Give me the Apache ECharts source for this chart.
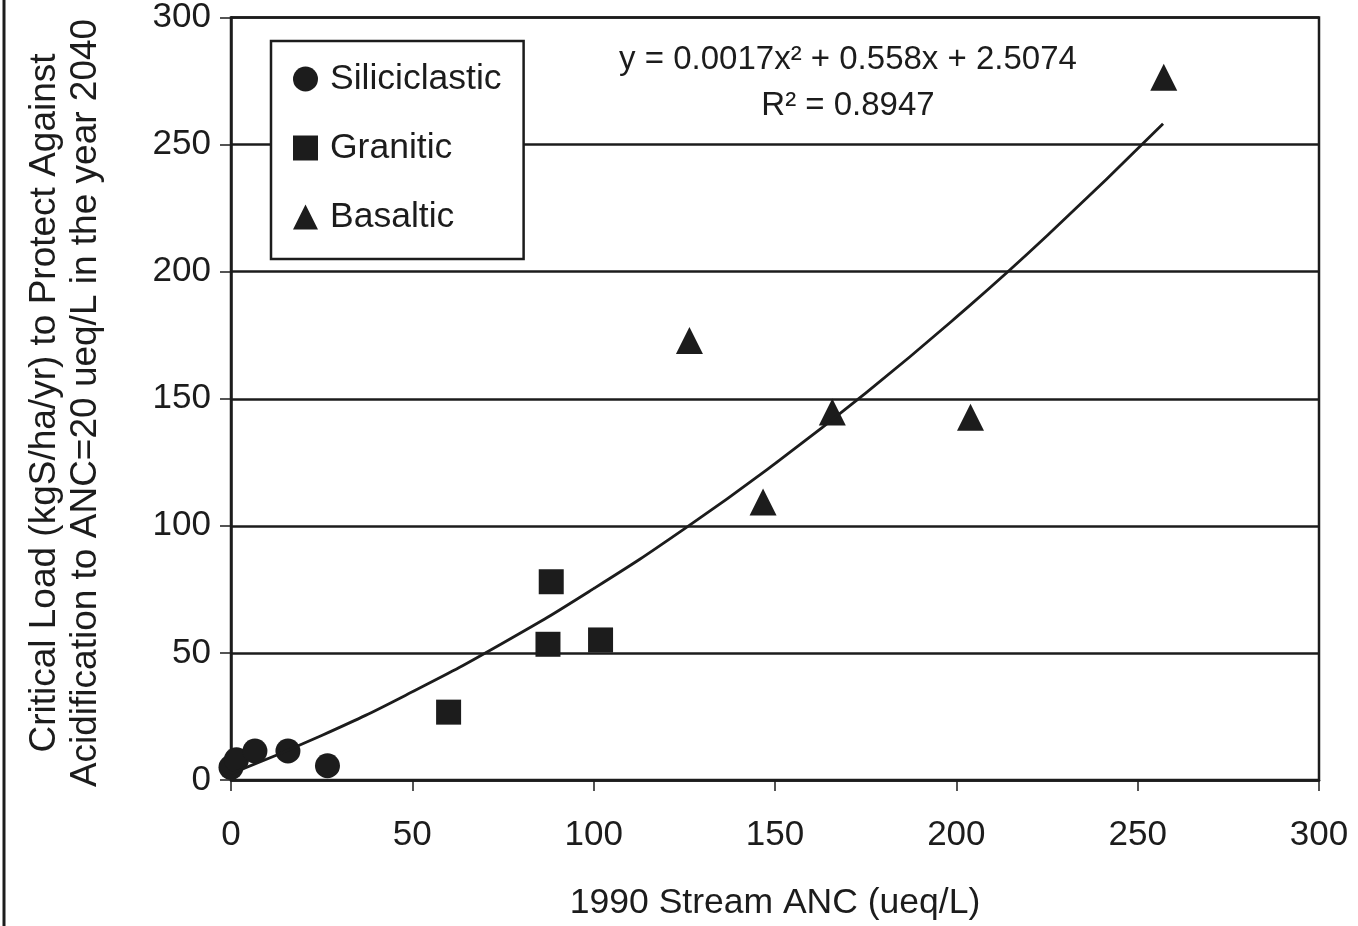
<!DOCTYPE html>
<html>
<head>
<meta charset="utf-8">
<script src="https://cdn.jsdelivr.net/npm/echarts@6/dist/echarts.min.js"></script>
<style>
html,body{margin:0;padding:0;background:#fff;}
#chart{width:1358px;height:926px;}
</style>
</head>
<body>
<div id="chart"></div>
<script>
// Data
const siliciclastic = [[0, 5], [1.5, 8], [6.6, 11.4], [15.7, 11.4], [26.6, 5.6]];
const granitic = [[60.0, 26.7], [87.4, 53.4], [88.3, 78.0], [101.9, 55.1]];
const basaltic = [[126.4, 172.9], [146.7, 109.4], [165.8, 144.8], [203.9, 142.7], [257.2, 276.5]];
// Points
const trendX = [0, 25, 50, 75, 100, 125, 150, 175, 200, 225, 257];
const trendY = [2.5, 17.5, 34.7, 53.9, 75.3, 98.8, 124.5, 152.2, 182.1, 214.1, 258.2];
const xTicks = [0, 50, 100, 150, 200, 250, 300];
const yTicks = [0, 50, 100, 150, 200, 250, 300];
const equationText = 'y = 0.0017x² + 0.558x + 2.5074';
const r2Text = 'R² = 0.8947';
const xTitle = '1990 Stream ANC (ueq/L)';
const yTitle1 = 'Critical Load (kgS/ha/yr) to Protect Against';
const yTitle2 = 'Acidification to ANC=20 ueq/L in the year 2040';

const FONT = "'Liberation Sans', Arial, sans-serif";
const INK = '#1c1c1c';

const chart = echarts.init(document.getElementById('chart'), null, {renderer: 'canvas'});
const trendData = trendX.map((x, i) => [x, trendY[i]]);

chart.setOption({
  backgroundColor: '#fff',
  animation: false,
  grid: {left: 231, right: 39, top: 17, bottom: 138, show: true, borderColor: INK, borderWidth: 2.5, backgroundColor: 'transparent'},
  xAxis: {
    type: 'value', min: xTicks[0], max: xTicks[xTicks.length - 1], interval: 50,
    name: xTitle, nameLocation: 'middle', nameGap: 105,
    nameTextStyle: {fontFamily: FONT, fontSize: 35.5, color: INK},
    axisLine: {onZero: false, lineStyle: {color: INK, width: 2.5}},
    axisTick: {show: true, inside: false, length: 11, lineStyle: {color: INK, width: 1.5}},
    axisLabel: {fontFamily: FONT, fontSize: 35, color: INK, margin: 38},
    splitLine: {show: false}
  },
  yAxis: {
    type: 'value', min: yTicks[0], max: yTicks[yTicks.length - 1], interval: 50,
    axisLine: {show: true, onZero: false, lineStyle: {color: INK, width: 2.5}},
    axisTick: {show: true, inside: false, length: 11, lineStyle: {color: INK, width: 1.5}},
    axisLabel: {fontFamily: FONT, fontSize: 35, color: INK, margin: 20},
    splitLine: {show: true, lineStyle: {color: INK, width: 2.5}}
  },
  legend: {
    orient: 'vertical', left: 271, top: 41,
    padding: [18, 22, 22, 22],
    itemGap: 29, itemWidth: 25, itemHeight: 25,
    backgroundColor: '#fff', borderColor: INK, borderWidth: 2.5,
    textStyle: {fontFamily: FONT, fontSize: 35.5, color: INK, lineHeight: 40, padding: [0, 0, 0, 7]},
    data: ['Siliciclastic', 'Granitic', 'Basaltic'],
    z: 10
  },
  series: [
    {name: 'Siliciclastic', type: 'scatter', symbol: 'circle', symbolSize: 25, data: siliciclastic, itemStyle: {color: INK, opacity: 1}, z: 3},
    {name: 'Granitic', type: 'scatter', symbol: 'rect', symbolSize: 25, data: granitic, itemStyle: {color: INK, opacity: 1}, z: 3},
    {name: 'Basaltic', type: 'scatter', symbol: 'triangle', symbolSize: 27, data: basaltic, itemStyle: {color: INK, opacity: 1}, z: 3},
    {name: 'Trend', type: 'line', data: trendData, smooth: true, showSymbol: false, symbol: 'none', lineStyle: {color: INK, width: 2.8}, z: 4, silent: true}
  ],
  graphic: [
    {type: 'text', position: [848, 60], style: {text: equationText, fontFamily: FONT, fontSize: 33, fill: INK, textAlign: 'center', textVerticalAlign: 'middle'}, z: 20},
    {type: 'text', position: [848, 106], style: {text: r2Text, fontFamily: FONT, fontSize: 33, fill: INK, textAlign: 'center', textVerticalAlign: 'middle'}, z: 20},
    {type: 'text', position: [45, 403], rotation: Math.PI / 2, style: {text: yTitle1, fontFamily: FONT, fontSize: 37, fill: INK, textAlign: 'center', textVerticalAlign: 'middle'}, z: 20},
    {type: 'text', position: [86, 403], rotation: Math.PI / 2, style: {text: yTitle2, fontFamily: FONT, fontSize: 37, fill: INK, textAlign: 'center', textVerticalAlign: 'middle'}, z: 20},
    {type: 'line', shape: {x1: 4, y1: 0, x2: 4, y2: 926}, style: {stroke: INK, lineWidth: 3}, z: 20}
  ]
});
</script>
</body>
</html>
